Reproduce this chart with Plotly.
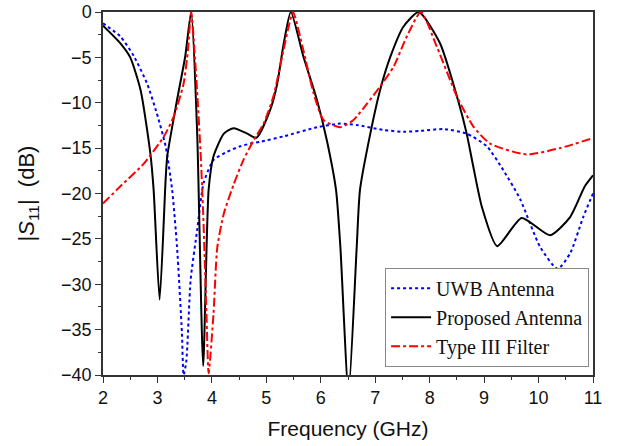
# Plotly for the interactive chart
import plotly.graph_objects as go


# ============================================================
# DATA — |S11| (GHz, dB)
# ============================================================
freq_uwb = [2.0, 2.32, 2.57, 2.81, 2.99, 3.15, 3.27, 3.36, 3.45, 3.48, 3.53, 3.61,
            3.73, 3.85, 4.03, 4.28, 4.52, 4.71, 4.89, 5.32, 5.93, 6.36, 6.66, 7.15,
            7.52, 7.83, 8.25, 8.68, 9.05, 9.35, 9.66, 10.03, 10.35, 10.58, 10.82, 11.0]
s11_uwb = [-1.25, -2.7, -4.9, -7.9, -11.2, -14.8, -19.6, -25.9, -35.4, -40.0, -38.5, -29.5,
           -24.0, -18.8, -16.3, -15.4, -14.8, -14.5, -14.3, -13.7, -12.7, -12.3, -12.45, -13.0,
           -13.2, -13.1, -12.9, -13.4, -14.8, -17.4, -20.6, -25.9, -28.3, -26.6, -22.6, -20.0]

freq_prop = [2.0, 2.32, 2.5, 2.69, 2.87, 2.93, 3.04, 3.15, 3.18, 3.36, 3.51, 3.62,
             3.73, 3.84, 3.94, 4.03, 4.22, 4.40, 4.65, 4.82, 5.07, 5.20, 5.32, 5.45,
             5.68, 5.93, 6.11, 6.28, 6.36, 6.51, 6.66, 6.72, 6.91, 7.09, 7.28, 7.52,
             7.80, 8.19, 8.52, 8.68, 8.80, 8.96, 9.24, 9.69, 10.21, 10.58, 10.85, 11.0]
s11_prop = [-1.5, -3.45, -5.0, -8.6, -15.6, -19.6, -31.7, -18.5, -15.9, -9.7, -4.9, 0.0,
            -13.4, -39.0, -19.6, -15.9, -13.4, -12.8, -13.4, -13.85, -10.8, -7.9, -3.45, 0.0,
            -4.9, -9.7, -14.1, -19.6, -25.9, -42.0, -25.9, -19.6, -13.4, -8.6, -4.9, -1.6,
            0.0, -3.45, -9.7, -13.4, -17.0, -21.5, -25.8, -22.7, -24.6, -22.6, -19.2, -18.0]

freq_filt = [2.0, 2.32, 2.75, 3.12, 3.30, 3.48, 3.56, 3.62, 3.70, 3.79, 3.84, 3.90,
             3.94, 4.03, 4.10, 4.22, 4.40, 4.58, 4.77, 4.95, 5.13, 5.29, 5.41, 5.49,
             5.68, 5.87, 6.05, 6.36, 6.60, 6.85, 7.09, 7.34, 7.58, 7.84, 8.13, 8.50,
             8.80, 9.11, 9.78, 10.39, 11.0]
s11_filt = [-21.1, -19.2, -16.7, -13.7, -11.5, -7.9, -4.2, 0.0, -6.0, -15.2, -22.2, -33.2,
            -39.8, -33.2, -25.9, -22.2, -19.0, -16.3, -14.1, -12.3, -9.3, -4.9, -1.6, 0.0,
            -4.2, -9.0, -11.9, -12.7, -11.9, -10.1, -8.2, -6.0, -2.7, 0.0, -3.8, -9.3,
            -12.6, -14.5, -15.7, -15.0, -13.9]

x_ticks = [2, 3, 4, 5, 6, 7, 8, 9, 10, 11]
y_ticks = [0, -5, -10, -15, -20, -25, -30, -35, -40]


# ============================================================
# CHART
# ============================================================
fig = go.Figure()

fig.add_trace(go.Scatter(
    x=freq_uwb, y=s11_uwb, mode="lines", name="UWB Antenna",
    line=dict(color="#0000ff", width=2, dash="dot", shape="spline", smoothing=0.6)
))
fig.add_trace(go.Scatter(
    x=freq_prop, y=s11_prop, mode="lines", name="Proposed Antenna",
    line=dict(color="#000000", width=2, shape="spline", smoothing=0.6)
))
fig.add_trace(go.Scatter(
    x=freq_filt, y=s11_filt, mode="lines", name="Type III Filter",
    line=dict(color="#ff0000", width=2, dash="dashdot", shape="spline", smoothing=0.6)
))

axis_common = dict(
    showgrid=False, zeroline=False, automargin=False, ticklabeloverflow="allow",
    showline=True, linecolor="#333333", linewidth=1.5, mirror=True,
    ticks="outside", ticklen=6, tickwidth=1.3, tickcolor="#333333",
    tickfont=dict(family="Liberation Sans, Arial", size=18, color="#111111"),
)

fig.update_xaxes(
    range=[2, 11], tickvals=x_ticks,
    minor=dict(dtick=0.5, ticks="outside", ticklen=3, tickcolor="#333333", tickwidth=1.2),
    title=dict(text="Frequency (GHz)", font=dict(family="Liberation Sans, Arial", size=21, color="#111111"),
               standoff=14),
    **axis_common
)
fig.update_yaxes(
    range=[-40, 0], tickvals=y_ticks,
    minor=dict(dtick=2.5, ticks="outside", ticklen=3, tickcolor="#333333", tickwidth=1.2),
    title=dict(text="|<i>S</i><sub>11</sub>|  (dB)",
               font=dict(family="Liberation Sans, Arial", size=22, color="#111111"), standoff=20),
    **axis_common
)

fig.update_layout(
    width=620, height=446,
    margin=dict(l=103, r=27, t=12, b=71),
    plot_bgcolor="white", paper_bgcolor="white",
    showlegend=True,
    legend=dict(
        x=0.992, y=0.023, xanchor="right", yanchor="bottom",
        bgcolor="white", bordercolor="#888888", borderwidth=1,
        font=dict(family="Liberation Serif, Times New Roman", size=20, color="#111111"),
        tracegroupgap=0, itemwidth=40,
    ),
)

# remove the page's default body margin so the figure sits at the top-left corner
fig.write_html(
    "out.html",
    config={"displayModeBar": False},
    post_script="document.body.style.margin = '0px';",
)
